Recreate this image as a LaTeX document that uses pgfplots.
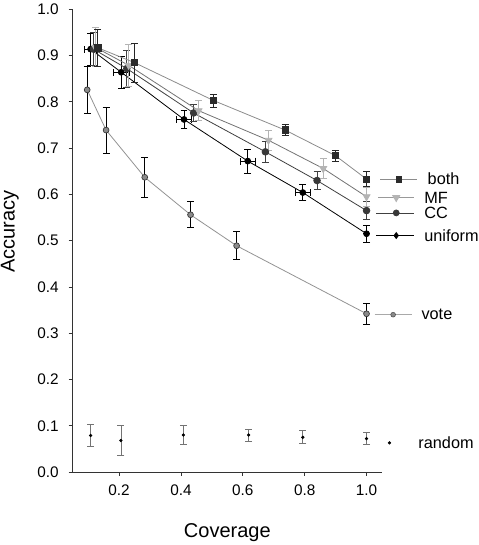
\documentclass[border=0pt]{standalone}
\usepackage{pgfplots}
\pgfplotsset{compat=1.18}
\usepackage{fontspec}
\setmainfont{Liberation Sans}
\definecolor{bothline}{HTML}{8C8C8C}
\definecolor{bothmark}{HTML}{2B2B2B}
\definecolor{mfline}{HTML}{737373}
\definecolor{mfmark}{HTML}{B4B4B4}
\definecolor{ccline}{HTML}{404040}
\definecolor{ccmark}{HTML}{383838}
\definecolor{voteline}{HTML}{939393}
\definecolor{votemark}{HTML}{8A8A8A}
\pgfplotsset{
  error bars/myerr/.style={
    error bar style={line width=0.6pt, color=#1},
    error mark options={line width=0.6pt, mark size=2.6pt, color=#1, rotate=90}}
}
\begin{document}
\begin{tikzpicture}
\path[use as bounding box] (-54.5pt,-54.75pt) rectangle (304pt,354pt);
\begin{axis}[
  at={(0,0)}, anchor=south west,
  scale only axis, width=232pt, height=347pt,
  xmin=0.05, xmax=1.05, ymin=0, ymax=1,
  axis lines=left, axis line style={-, line width=0.6pt, color=black!80},
  xtick={0.2,0.4,0.6,0.8,1.0},
  ytick={0,0.1,0.2,0.3,0.4,0.5,0.6,0.7,0.8,0.9,1.0},
  tick align=outside, tick pos=left, major tick length=3pt,
  tick style={line width=0.6pt, color=black!80},
  /pgf/number format/assume math mode=true,
  xticklabel style={/pgf/number format/.cd, fixed, fixed zerofill, precision=1, /tikz/.cd, yshift=-3pt},
  yticklabel style={/pgf/number format/.cd, fixed, fixed zerofill, precision=1, /tikz/.cd, xshift=-4pt},
  tick label style={font=\fontsize{11.5}{13}\selectfont},
  label style={font=\fontsize{15}{17}\selectfont},
  xlabel={Coverage}, ylabel={Accuracy},
  xlabel style={at={(axis description cs:0.5,0)}, anchor=center, yshift=-45.75pt},
  ylabel style={at={(axis description cs:-0.203,0.52)}, anchor=center},
  clip=false,
  every axis plot/.append style={line width=0.6pt},
]
% vote
\addplot[color=voteline, mark=*, mark size=2.2pt,
  mark options={fill=votemark, draw=black!80, line width=0.5pt},
  error bars/.cd, y dir=both, y explicit, myerr=black]
  coordinates {
  (0.097,0.826) +- (0,0.050)
  (0.158,0.739) +- (0,0.050)
  (0.283,0.637) +- (0,0.044)
  (0.431,0.556) +- (0,0.028)
  (0.580,0.489) +- (0,0.030)
  (1.000,0.342) +- (0,0.022)
  };
% uniform
\addplot[color=black, mark=*, mark size=2.2pt,
  mark options={fill=black},
  error bars/.cd, y dir=both, y explicit, x dir=both, x explicit, myerr=black]
  coordinates {
  (0.108,0.914) +- (0.020,0.035)
  (0.207,0.864) +- (0.025,0.035)
  (0.410,0.762) +- (0.025,0.020)
  (0.616,0.672) +- (0.025,0.026)
  (0.794,0.604) +- (0.023,0.017)
  (1.000,0.515) +- (0,0.018)
  };
% CC
\addplot[color=ccline, mark=*, mark size=2.5pt,
  mark options={fill=ccmark, draw=ccmark},
  error bars/.cd, y dir=both, y explicit, myerr=black!75]
  coordinates {
  (0.117,0.914) +- (0,0.036)
  (0.225,0.872) +- (0,0.040)
  (0.441,0.776) +- (0,0.018)
  (0.673,0.692) +- (0,0.023)
  (0.840,0.630) +- (0,0.019)
  (1.000,0.565) +- (0,0.020)
  };
% MF
\addplot[color=mfline, mark=triangle*, mark size=3pt,
  mark options={fill=mfmark, draw=mfmark, rotate=180},
  error bars/.cd, y dir=both, y explicit, myerr=mfmark]
  coordinates {
  (0.123,0.918) +- (0,0.042)
  (0.231,0.879) +- (0,0.046)
  (0.457,0.781) +- (0,0.022)
  (0.683,0.717) +- (0,0.021)
  (0.860,0.656) +- (0,0.021)
  (1.000,0.595) +- (0,0.020)
  };
% both
\addplot[color=bothline, mark=square*, mark size=2.4pt,
  mark options={fill=bothmark, draw=bothmark},
  error bars/.cd, y dir=both, y explicit, myerr=black!85]
  coordinates {
  (0.131,0.917) +- (0,0.040)
  (0.249,0.885) +- (0,0.042)
  (0.505,0.803) +- (0,0.014)
  (0.737,0.739) +- (0,0.012)
  (0.899,0.684) +- (0,0.012)
  (1.000,0.633) +- (0,0.016)
  };
% random
\addplot[only marks, mark=*, mark size=0.9pt, color=black,
  error bars/.cd, y dir=both, y explicit, myerr=black!55]
  coordinates {
  (0.108,0.079) +- (0,0.023)
  (0.206,0.068) +- (0,0.033)
  (0.408,0.080) +- (0,0.021)
  (0.619,0.080) +- (0,0.013)
  (0.794,0.075) +- (0,0.014)
  (1.000,0.072) +- (0,0.013)
  };
% legend samples
\addplot[color=bothline, mark=square*, mark size=2.1pt, mark indices={2},
  mark options={fill=bothmark, draw=bothmark}]
  coordinates {(1.045,0.633) (1.104,0.633) (1.162,0.633)};
\addplot[color=mfmark!85!black, line width=1pt, mark=triangle*, mark size=2.6pt, mark indices={2},
  mark options={fill=mfmark, draw=mfmark, rotate=180}]
  coordinates {(1.038,0.593) (1.096,0.593) (1.155,0.593)};
\addplot[color=ccline, mark=*, mark size=2.2pt, mark indices={2},
  mark options={fill=ccmark, draw=ccmark}]
  coordinates {(1.032,0.560) (1.096,0.560) (1.155,0.560)};
\addplot[color=black, mark=diamond*, mark size=2.2pt, mark indices={2},
  mark options={fill=black}]
  coordinates {(1.032,0.511) (1.096,0.511) (1.155,0.511)};
\addplot[color=voteline!80, mark=*, mark size=1.8pt, mark indices={2},
  mark options={fill=votemark, draw=black!70, line width=0.4pt}]
  coordinates {(1.026,0.340) (1.086,0.340) (1.146,0.340)};
\addplot[only marks, mark=*, mark size=0.9pt, color=black]
  coordinates {(1.074,0.063)};
\begin{scope}[every node/.style={font=\fontsize{12.2}{14}\selectfont, anchor=west, inner sep=0pt}]
\node at (axis cs:1.197,0.633) {both};
\node at (axis cs:1.186,0.593) {MF};
\node at (axis cs:1.186,0.560) {CC};
\node at (axis cs:1.186,0.511) {uniform};
\node at (axis cs:1.177,0.340) {vote};
\node at (axis cs:1.167,0.063) {random};
\end{scope}
\end{axis}
\end{tikzpicture}
\end{document}
